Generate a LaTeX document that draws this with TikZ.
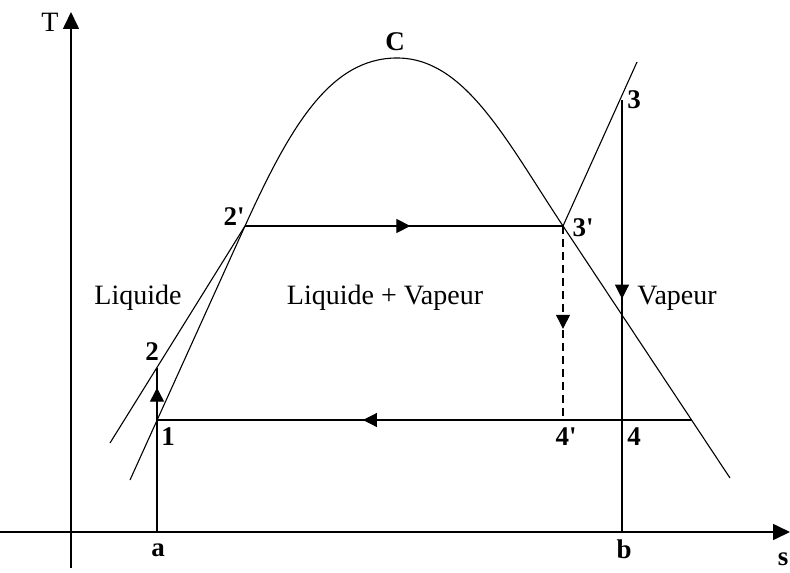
\documentclass[tikz,border=0pt]{standalone}
\usepackage{fontspec}
\setmainfont{Liberation Serif}
\usetikzlibrary{arrows.meta, decorations.markings}

\begin{document}
\begin{tikzpicture}[x=0.5pt, y=-0.5pt]
    \tikzset{
        curve/.style={line width=0.55pt},
        axis/.style={line width=0.8pt, -{Triangle[length=8.5pt,width=8pt]}},
        pt/.style={font=\fontsize{13.5}{15}\selectfont\bfseries, inner sep=1pt},
        zone/.style={font=\fontsize{14}{16}\selectfont},
        midarrow/.style={postaction={decorate, decoration={markings,
            mark=at position #1 with {\arrow{Triangle[length=7pt,width=7pt]}}}}}
    }
    \useasboundingbox (0,0) rectangle (790,572);
    % axes
    \coordinate (tbot) at (71,568);
    \coordinate (ttop) at (71,12);
    \coordinate (sl) at (0,532);
    \coordinate (sr) at (790,532);
    \draw[axis] (tbot) -- (ttop);
    \draw[axis] (sl) -- (sr);
    % cycle points
    \coordinate (a) at (157,532);
    \coordinate (p1) at (157,420);
    \coordinate (p2) at (157,368);
    \coordinate (p2s) at (245,226);
    \coordinate (p3s) at (563,226);
    \coordinate (p3) at (622,100);
    \coordinate (p4) at (622,420);
    \coordinate (p4s) at (563,420);
    \coordinate (b) at (622,532);
    \coordinate (r) at (692,420);
    \coordinate (dl) at (130,480);
    \coordinate (dr) at (730,478);
    \coordinate (c) at (397,58);
    \coordinate (hl) at (110,443);
    \coordinate (ht) at (637,62);
    % saturation dome and isobars
    \draw[curve] (dl) -- (p2s) .. controls (290,127) and (330,58) .. (c)
        .. controls (465,58) and (506,140) .. (p3s) -- (dr);
    \draw[curve] (hl) -- (p2s);
    \draw[curve] (p3s) -- (ht);
    % cycle
    \draw[curve, midarrow=0.88] (a) -- (p1) -- (p2);
    \draw[curve, midarrow=0.52] (p2s) -- (p3s);
    \draw[curve, midarrow=0.46] (p3) -- (p4) -- (b);
    \draw[curve, dash pattern=on 4pt off 2.5pt, midarrow=0.53] (p3s) -- (p4s);
    \draw[curve, midarrow=0.615] (r) -- (p1);
    % labels
    \node[zone] (lt) at (50,22) {T};
    \node[pt] (ls) at (783,559) {s};
    \node[pt] (la) at (158,550) {a};
    \node[pt] (lb) at (624,549) {b};
    \node[pt] (lc) at (395,42) {C};
    \node[pt] (l1) at (168,437) {1};
    \node[pt] (l2) at (152,352) {2};
    \node[pt] (l2s) at (234,217) {2\textquotesingle};
    \node[pt] (l3s) at (583,228) {3\textquotesingle};
    \node[pt] (l3) at (634,100) {3};
    \node[pt] (l4s) at (566,437) {4\textquotesingle};
    \node[pt] (l4) at (634,437) {4};
    \node[zone] (liq) at (138,298) {Liquide};
    \node[zone] (mix) at (385,298) {Liquide + Vapeur};
    \node[zone] (vap) at (677,298) {Vapeur};
\end{tikzpicture}
\end{document}
